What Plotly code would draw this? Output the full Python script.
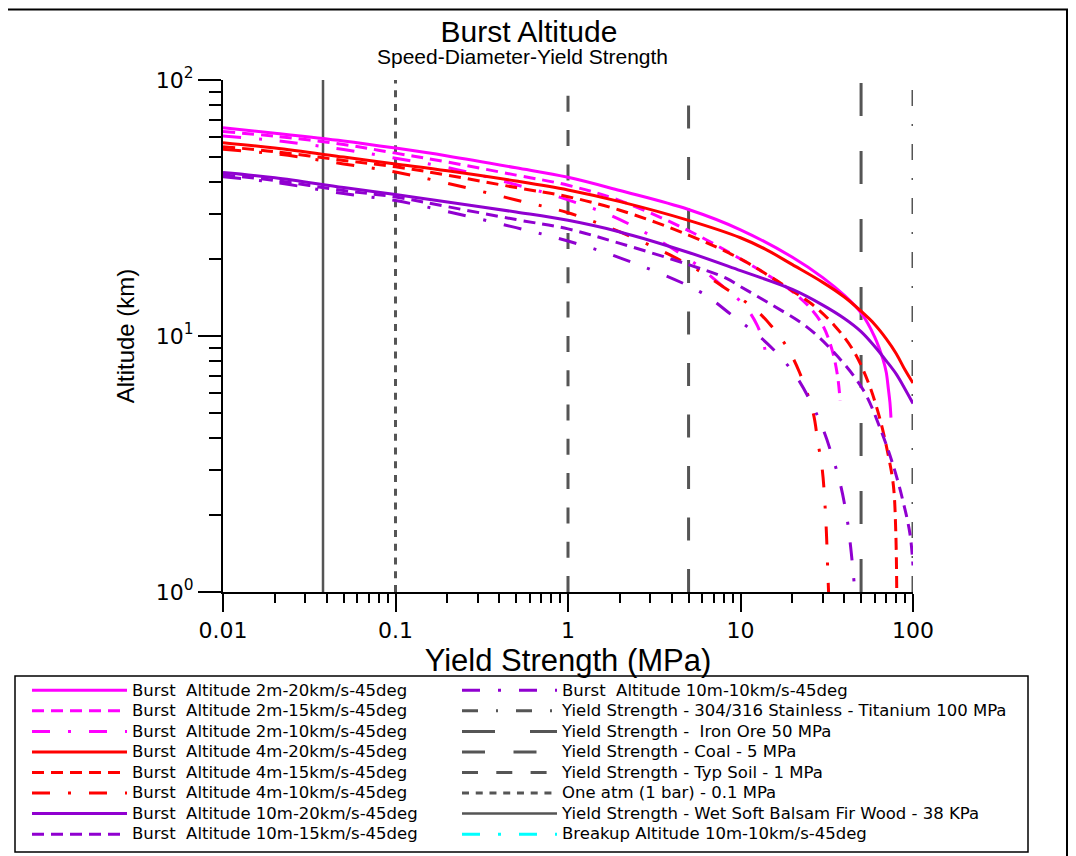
import plotly.graph_objects as go

# ---------------- data ----------------
# Burst altitude curves: yield strength (MPa) -> altitude (km)
m20_x = [0.01, 0.02, 0.05, 0.1, 0.2, 0.5, 1, 2, 5, 10, 20, 30, 40, 50, 60, 67, 70, 72, 73.5, 74.5]
m20_y = [65.1, 62.0, 57.8, 54.2, 50.5, 45.4, 41.7, 37.0, 31.2, 26.0, 20.3, 16.9, 14.4, 12.3, 9.9, 8.1, 7.2, 6.2, 5.5, 4.8]

m15_x = [0.01, 0.02, 0.05, 0.1, 0.2, 0.5, 1, 2, 5, 10, 15, 20, 25, 30, 34, 36.5, 37.8]
m15_y = [62.9, 60.3, 56.0, 51.8, 47.8, 42.5, 38.8, 33.8, 25.8, 20.0, 17.0, 14.9, 13.0, 11.0, 8.8, 7.0, 5.6]

m10_x = [0.01, 0.02, 0.05, 0.1, 0.2, 0.5, 1, 2, 5, 8, 10.5, 12.5, 13.7, 14.2]
m10_y = [60.4, 58.0, 53.5, 49.5, 45.5, 39.0, 34.0, 28.5, 20.0, 15.5, 13.2, 11.0, 9.2, 7.7]

r20_x = [0.01, 0.02, 0.05, 0.1, 0.2, 0.5, 1, 2, 5, 10, 14, 20, 30, 40, 50, 60, 70, 80, 90, 100]
r20_y = [56.9, 54.2, 50.0, 47.0, 44.2, 40.3, 37.2, 33.5, 28.3, 24.2, 21.8, 19.0, 16.2, 14.2, 12.5, 11.1, 9.75, 8.53, 7.36, 6.55]

r15_x = [0.01, 0.02, 0.05, 0.1, 0.2, 0.5, 1, 2, 5, 10, 15, 20, 26, 35, 45, 55, 64, 72, 77, 79.5, 80.5]
r15_y = [54.9, 52.5, 48.5, 45.8, 42.5, 38.0, 35.0, 31.0, 24.8, 20.0, 17.0, 15.0, 13.3, 11.0, 8.8, 6.6, 4.8, 3.4, 2.6, 1.7, 1.0]

r10_x = [0.01, 0.02, 0.05, 0.1, 0.2, 0.5, 1, 2, 5, 8, 12, 15, 18.5, 22, 26.4, 28, 29.8, 31, 31.6, 32, 32.4]
r10_y = [53.6, 51.5, 47.0, 43.7, 39.5, 34.0, 30.3, 25.5, 19.0, 15.5, 12.8, 11.0, 9.1, 7.2, 5.0, 3.9, 3.0, 2.1, 1.6, 1.25, 1.0]

p20_x = [0.01, 0.02, 0.05, 0.1, 0.2, 0.5, 1, 2, 5, 10, 20, 30, 40, 50, 60, 70, 80, 90, 100]
p20_y = [43.5, 41.5, 38.0, 35.7, 33.4, 30.5, 28.3, 25.5, 21.2, 18.0, 15.2, 13.2, 11.7, 10.4, 9.1, 8.0, 7.1, 6.2, 5.45]

p15_x = [0.01, 0.02, 0.05, 0.1, 0.2, 0.5, 1, 2, 5, 8.3, 10, 15, 24, 35, 51.5, 65, 77, 87, 96, 100]
p15_y = [42.6, 40.5, 37.0, 34.9, 32.0, 28.5, 26.2, 23.0, 19.0, 16.8, 15.6, 13.3, 10.9, 8.6, 6.15, 4.3, 3.1, 2.3, 1.69, 1.27]

p10_x = [0.01, 0.02, 0.05, 0.1, 0.2, 0.5, 1, 2, 5.8, 9, 13, 17, 21.2, 26, 30.2, 34, 37.8, 41.3, 43.5, 45.5]
p10_y = [41.9, 39.8, 36.0, 33.8, 30.6, 26.5, 23.5, 20.2, 14.9, 12.0, 9.9, 8.3, 6.9, 5.4, 4.3, 3.4, 2.66, 1.97, 1.5, 1.1]

# Breakup altitude curve: nothing of it is visible inside the plotted range
breakup_x = [None]
breakup_y = [None]

# Reference yield strengths (MPa), drawn as vertical lines over the altitude span
ref_names = [
    "Yield Strength - 304/316 Stainless - Titanium 100 MPa",
    "Yield Strength -  Iron Ore 50 MPa",
    "Yield Strength - Coal - 5 MPa",
    "Yield Strength - Typ Soil - 1 MPa",
    "One atm (1 bar) - 0.1 MPa",
    "Yield Strength - Wet Soft Balsam Fir Wood - 38 KPa",
]
ref_values = [100, 50, 5, 1, 0.1, 0.038]
ref_span = [1, 100]   # altitude span (km) of the reference lines

x_ticks = [0.01, 0.1, 1, 10, 100]
x_tick_text = ["0.01", "0.1", "1", "10", "100"]
y_ticks = [1, 10, 100]
y_tick_text = ["10<sup>0</sup>", "10<sup>1</sup>", "10<sup>2</sup>"]

# ---------------- styling ----------------
MAG, RED, PUR, GRY, CYN = "#FF00FF", "#FF0000", "#9000D0", "#555555", "#00FFFF"
DASH = "12px,7px"
DASHDOT = "18px,18px,3px,18px"
ref_dash = ["16px,18px,2px,18px", "33px,35px", "23px,28.5px", "16px,18.3px", "7px,6.74px", "solid"]
ref_width = [3, 3, 3, 3, 3, 2.5]

WIDE = "DejaVu Sans, Verdana, sans-serif"
ARIAL = "Liberation Sans, Arial, sans-serif"
ITEMW = 95   # legend symbol width


def leg_label(name):
    # legend rows are tight in the reference: larger glyphs within a compact row pitch
    return "<span style='font-size:16.5px'>" + name + "</span>"


fig = go.Figure()

# reference lines first (drawn beneath the curves); legend order via legendrank
for i, (name, v) in enumerate(zip(ref_names, ref_values)):
    fig.add_trace(go.Scatter(
        x=[v, v], y=ref_span, mode="lines", name=leg_label(name),
        line=dict(color=GRY, width=ref_width[i], dash=ref_dash[i]),
        legend="legend2", legendrank=10 + i,
    ))

curves = [
    ("Burst  Altitude 2m-20km/s-45deg", m20_x, m20_y, MAG, "solid", "legend", 1),
    ("Burst  Altitude 2m-15km/s-45deg", m15_x, m15_y, MAG, DASH, "legend", 2),
    ("Burst  Altitude 2m-10km/s-45deg", m10_x, m10_y, MAG, DASHDOT, "legend", 3),
    ("Burst  Altitude 4m-20km/s-45deg", r20_x, r20_y, RED, "solid", "legend", 4),
    ("Burst  Altitude 4m-15km/s-45deg", r15_x, r15_y, RED, DASH, "legend", 5),
    ("Burst  Altitude 4m-10km/s-45deg", r10_x, r10_y, RED, DASHDOT, "legend", 6),
    ("Burst  Altitude 10m-20km/s-45deg", p20_x, p20_y, PUR, "solid", "legend", 7),
    ("Burst  Altitude 10m-15km/s-45deg", p15_x, p15_y, PUR, DASH, "legend", 8),
    ("Burst  Altitude 10m-10km/s-45deg", p10_x, p10_y, PUR, DASHDOT, "legend2", 9),
]
for name, xs, ys, col, dash, leg, rank in curves:
    fig.add_trace(go.Scatter(
        x=xs, y=ys, mode="lines", name=leg_label(name),
        line=dict(color=col, width=3, dash=dash, shape="spline", smoothing=1.0),
        legend=leg, legendrank=rank,
    ))

fig.add_trace(go.Scatter(
    x=breakup_x, y=breakup_y, mode="lines", name=leg_label("Breakup Altitude 10m-10km/s-45deg"),
    line=dict(color=CYN, width=3, dash=DASHDOT), legend="legend2", legendrank=20,
))

# ---------------- layout ----------------
OFF = 8                       # page margin of the html body
W, H = 1076 - OFF, 856 - OFF
L, T = 223 - OFF, 80 - OFF    # plot area: page x 223..913, page y 80..592
PW, PH = 690, 512
R, B = W - L - PW, H - T - PH


def px_x(px):
    """page pixel x -> paper x"""
    return (px - OFF - L) / PW


def px_y(py):
    """page pixel y -> paper y"""
    return (T + PH - (py - OFF)) / PH


minor_vals = [m * 10 ** e for e in range(-2, 2) for m in range(2, 10)]

fig.update_layout(
    width=W, height=H,
    margin=dict(l=L, r=R, t=T, b=B, autoexpand=False),
    paper_bgcolor="white", plot_bgcolor="white",
    showlegend=True,
    title=dict(
        text="Burst Altitude",
        font=dict(family=ARIAL, size=30, color="black"),
        x=(529 - OFF) / W, xanchor="center", xref="container",
        y=1 - (31 - OFF) / H, yanchor="middle", yref="container",
    ),
    annotations=[
        dict(text="Speed-Diameter-Yield Strength", xref="paper", yref="paper",
             x=px_x(522), y=px_y(56), xanchor="center", yanchor="middle",
             showarrow=False, font=dict(family=ARIAL, size=21, color="black")),
    ],
    xaxis=dict(
        type="log", range=[-2, 2],
        tickmode="array", tickvals=x_ticks, ticktext=x_tick_text,
        ticks="outside", ticklen=18, tickwidth=2, tickcolor="black",
        showline=True, linewidth=2, linecolor="black",
        showgrid=False, zeroline=False,
        tickfont=dict(family=WIDE, size=22, color="black"),
        minor=dict(tickvals=minor_vals, ticks="outside", ticklen=9, tickwidth=2,
                   tickcolor="black", showgrid=False),
        title=dict(text="Yield Strength (MPa)", standoff=2,
                   font=dict(family=ARIAL, size=31, color="black")),
    ),
    yaxis=dict(
        type="log", range=[0, 2],
        tickmode="array", tickvals=y_ticks, ticktext=y_tick_text,
        ticks="outside", ticklen=23, tickwidth=2, tickcolor="black",
        showline=True, linewidth=2, linecolor="black",
        showgrid=False, zeroline=False,
        tickfont=dict(family=WIDE, size=22, color="black"),
        minor=dict(dtick="D1", ticks="outside", ticklen=12, tickwidth=2,
                   tickcolor="black", showgrid=False),
        title=dict(text="Altitude (km)", standoff=14,
                   font=dict(family=ARIAL, size=24, color="black")),
    ),
    legend=dict(
        x=px_x(27), y=px_y(675), xanchor="left", yanchor="top",
        bgcolor="rgba(0,0,0,0)", borderwidth=0, itemwidth=ITEMW,
        font=dict(family=WIDE, size=13.5, color="black"),
        traceorder="normal",
    ),
    legend2=dict(
        x=px_x(457), y=px_y(675), xanchor="left", yanchor="top",
        bgcolor="rgba(0,0,0,0)", borderwidth=0, itemwidth=ITEMW,
        font=dict(family=WIDE, size=13.5, color="black"),
        traceorder="normal",
    ),
    shapes=[
        # legend frame
        dict(type="rect", xref="paper", yref="paper",
             x0=px_x(15), x1=px_x(1028), y0=px_y(676), y1=px_y(852),
             line=dict(color="black", width=1.5), fillcolor="rgba(0,0,0,0)", layer="below"),
        # outer frame of the chart
        dict(type="rect", xref="paper", yref="paper",
             x0=px_x(-6), x1=px_x(1067), y0=px_y(9.5), y1=px_y(900),
             line=dict(color="black", width=2), fillcolor="rgba(0,0,0,0)", layer="below"),
    ],
)

fig.write_html("out.html")
